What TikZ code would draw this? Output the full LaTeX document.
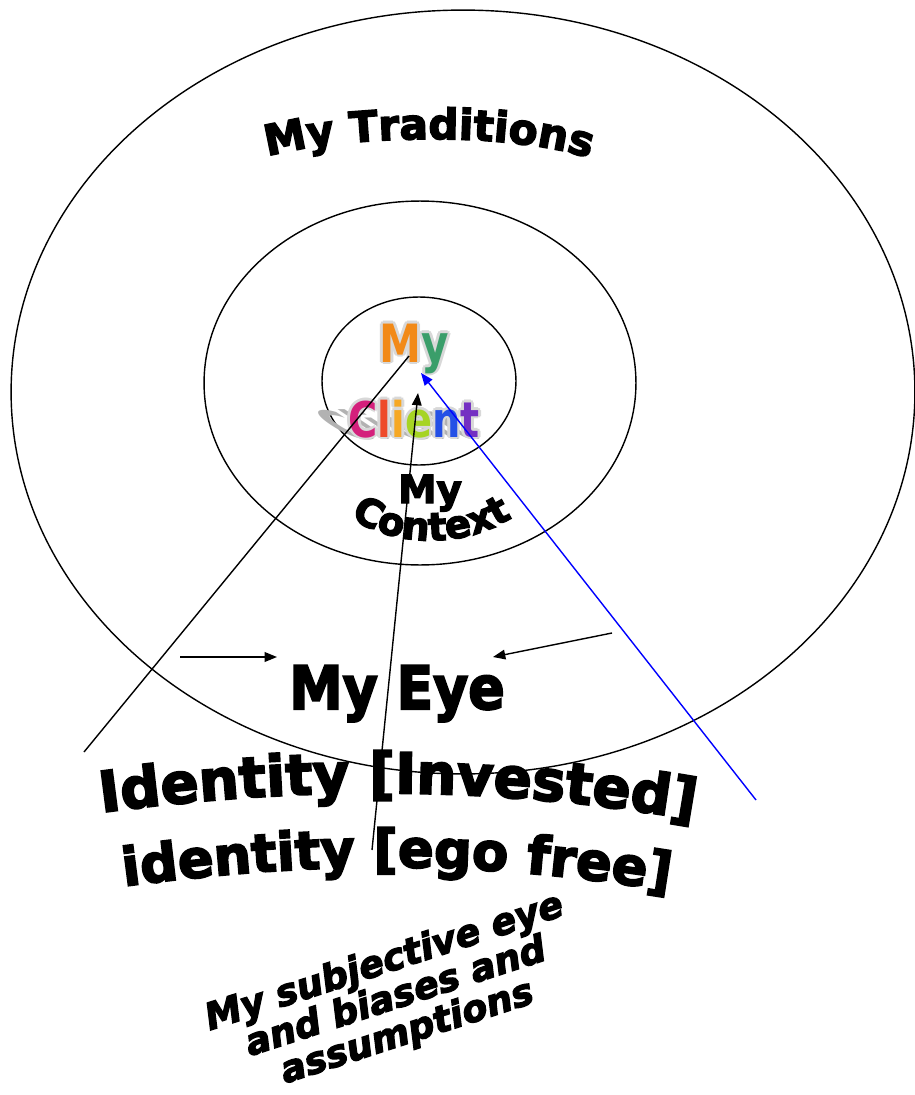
\documentclass[tikz,border=0pt]{standalone}
\usepackage{fontspec}
\setmainfont{DejaVu Sans}
\newfontfamily\heavy{DejaVu Sans}[BoldFeatures={FakeBold=3.5},BoldItalicFeatures={FakeBold=3.5}]
\usetikzlibrary{arrows.meta,decorations.text,calc}

\definecolor{rbOrange}{HTML}{F28A18}
\definecolor{rbTeal}{HTML}{3A9E6A}
\definecolor{rbMagenta}{HTML}{D4207C}
\definecolor{rbRed}{HTML}{EE4A2A}
\definecolor{rbAmber}{HTML}{F6A824}
\definecolor{rbLime}{HTML}{A6D424}
\definecolor{rbBlue}{HTML}{2450E6}
\definecolor{rbPurple}{HTML}{7430C2}
\definecolor{halo}{HTML}{D8D8D8}

\newcommand{\myword}[2]{\scalebox{0.8}[1]{\textcolor{#1}{M}\textcolor{#2}{y}}}
\newcommand{\clientword}[6]{\scalebox{0.81}[1]{\textcolor{#1}{C}\textcolor{#2}{l}\textcolor{#3}{i}\textcolor{#4}{e}\textcolor{#5}{n}\textcolor{#6}{t}}}

\begin{document}
\begin{tikzpicture}[x=0.02cm,y=-0.02cm,line width=0.8pt,
  tip/.style={-{Triangle[length=7pt,width=5.5pt]}},
  word/.style={font=\heavy\bfseries\fontsize{#1pt}{#1pt}\selectfont, inner sep=0pt},
  rb/.style={font=\bfseries\fontsize{#1pt}{#1pt}\selectfont, inner sep=0pt, anchor=base}]
\useasboundingbox (0,0) rectangle (915,1095);

% rings
\draw (463,392) ellipse [x radius=9.04cm, y radius=7.64cm];
\draw (420,383) ellipse [x radius=4.32cm, y radius=3.64cm];
\draw (419,381) ellipse [x radius=1.94cm, y radius=1.68cm];

\path[decorate, decoration={text along path, text align=center,
  text={|\heavy\bfseries\fontsize{24pt}{24pt}\selectfont|My Traditions}}]
  (262,158) .. controls (340,135) and (510,130) .. (595,160);

\node[word=22, anchor=base] (ctxMy) at (430,503) {My};
\path[decorate, decoration={text along path, text align=center,
  text={|\heavy\bfseries\fontsize{22pt}{22pt}\selectfont|Context}}]
  (343,512) .. controls (390,550) and (470,550) .. (520,512);

% client in the middle
\begin{scope}[shift={(416,439)}]
  \node[rb=28, xslant=-1.5, yscale=0.8, transform shape] (shadow) at (0,0)
    {\clientword{gray!60}{gray!60}{gray!60}{gray!60}{gray!60}{gray!60}};
\end{scope}
\foreach \a in {0,45,...,315} {
  \node[rb=30] (haloMy\a) at ($(414,362)+(\a:1.6pt)$) {\myword{halo}{halo}};
  \node[rb=28] (haloCl\a) at ($(414,437)+(\a:1.6pt)$)
    {\clientword{halo}{halo}{halo}{halo}{halo}{halo}};
}
\node[rb=30] (myRb) at (414,362) {\myword{rbOrange}{rbTeal}};
\node[rb=28] (clientRb) at (414,437)
  {\clientword{rbMagenta}{rbRed}{rbAmber}{rbLime}{rbBlue}{rbPurple}};

\node[word=34, anchor=base] (eye) at (397,709) {\scalebox{0.9}[1]{My Eye}};

\path[decorate, decoration={text along path, text align=center,
  text={|\heavy\bfseries\fontsize{32pt}{32pt}\selectfont|Identity [Invested]}}]
  (90,814) .. controls (300,785) and (500,785) .. (705,822);
\path[decorate, decoration={text along path, text align=center,
  text={|\heavy\bfseries\fontsize{30pt}{30pt}\selectfont|identity [ego free]}}]
  (118,887) .. controls (320,860) and (480,860) .. (675,892);

\node[font=\heavy\bfseries\itshape\fontsize{21pt}{21pt}\selectfont, align=center, rotate=18]
  (bias) at (396,998) {My subjective eye\\and biases and\\assumptions};

% pointers
\coordinate (farLeft) at (84,752);
\coordinate (myFoot) at (409,356);
\coordinate (lowMid) at (372,850);
\coordinate (clientTop) at (418,393);
\coordinate (farRight) at (756,800);
\coordinate (myTip) at (421,373);
\coordinate (fromLeft) at (180,657);
\coordinate (toLeft) at (277,657);
\coordinate (fromRight) at (612,633);
\coordinate (toRight) at (493,657);
\path (farLeft) edge (myFoot)
  (lowMid) edge[tip] (clientTop)
  (farRight) edge[tip, blue] (myTip)
  (fromLeft) edge[tip] (toLeft)
  (fromRight) edge[tip] (toRight);
\end{tikzpicture}
\end{document}
